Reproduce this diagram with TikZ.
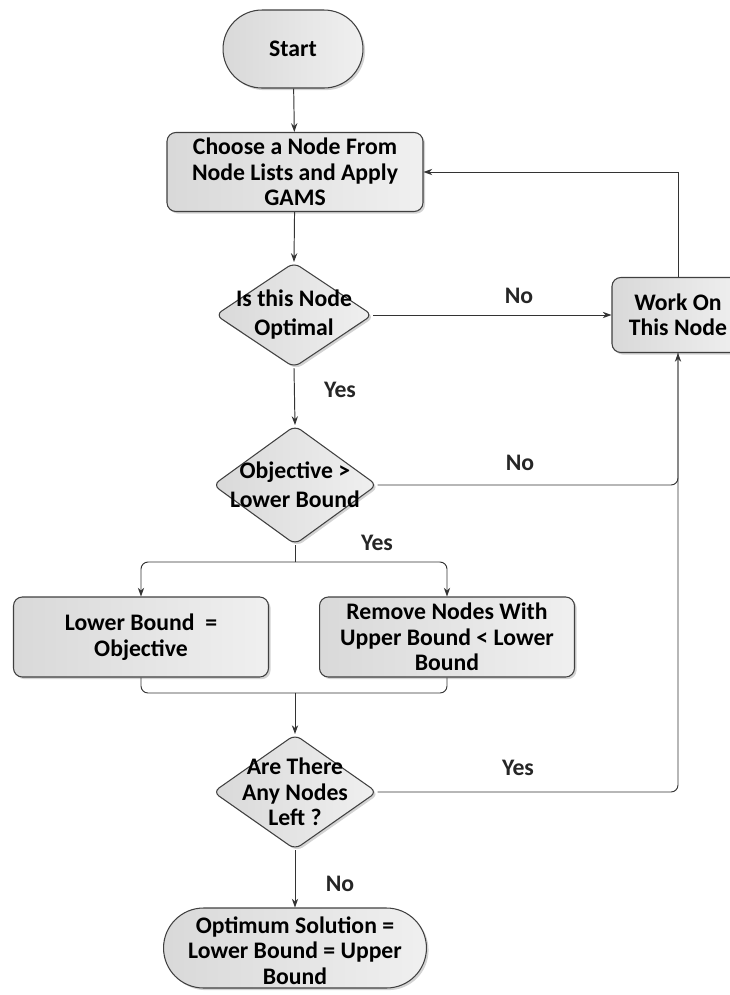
\documentclass[tikz,border=0pt]{standalone}
\usepackage{fontspec}
\setmainfont{Carlito}
\usetikzlibrary{shapes.geometric,shapes.misc,arrows.meta,shadows,calc}

\tikzset{
  txt/.style={font=\bfseries\fontsize{13.5}{14.5}\selectfont},
  shaded/.style={draw=black!75, line width=0.6pt, left color=black!15, right color=black!6,
                 drop shadow={shadow xshift=1.2pt, shadow yshift=-1.2pt, opacity=0.35}},
  procbox/.style={shaded, txt, rectangle, rounded corners=5pt, align=center, inner sep=2pt},
  termbox/.style={shaded, txt, rounded rectangle, align=center, inner sep=2pt},
  decbox/.style={shaded, diamond, inner sep=0pt, rounded corners=4pt},
  dectext/.style={font=\bfseries\fontsize{13.5}{16.5}\selectfont, align=center},
  lbl/.style={txt, text=black!85},
  arr/.style={draw=black!80, line width=0.55pt, -{Stealth[length=5pt,width=3.6pt]}},
  ln/.style={draw=black!80, line width=0.55pt},
}

\begin{document}
\begin{tikzpicture}[x=0.02cm, y=-0.02cm]
  \useasboundingbox (0,0) rectangle (730,995);

  % process nodes
  \node[termbox, minimum width=2.94cm, minimum height=1.56cm] (start) at (293,49) {Start};
  \node[procbox, minimum width=5.12cm, minimum height=1.58cm] (choose) at (295,172)
    {Choose a Node From\\Node Lists and Apply\\GAMS};
  \node[decbox, minimum width=3.14cm, minimum height=2.1cm,
        label={[dectext]center:Is this Node\\Optimal}] (opt) at (294,315) {};
  \node[procbox, minimum width=2.64cm, minimum height=1.5cm] (work) at (678,315)
    {Work On\\This Node};
  \node[decbox, minimum width=3.28cm, minimum height=2.38cm,
        label={[dectext]center:Objective >\\Lower Bound}] (obj) at (295,485) {};
  \node[procbox, minimum width=5.1cm, minimum height=1.6cm] (lb) at (141,637)
    {Lower Bound\ \ =\\Objective};
  \node[procbox, minimum width=5.1cm, minimum height=1.6cm] (rm) at (447,637)
    {Remove Nodes With\\Upper Bound < Lower\\Bound};
  \node[decbox, minimum width=3.28cm, minimum height=2.3cm,
        label={[txt, align=center]center:Are There\\Any Nodes\\Left ?}] (left) at (295,792) {};
  \node[termbox, minimum width=5.4cm, minimum height=1.6cm,
        label={[txt, align=center, yshift=-0.05cm]center:Optimum Solution =\\Lower Bound = Upper\\Bound}]
        (finish) at (295,948) {};

  % branch labels
  \node[lbl] (noA) at (519,296) {No};
  \node[lbl] (yesA) at (340,390) {Yes};
  \node[lbl] (noB) at (520,463) {No};
  \node[lbl] (yesB) at (377,543) {Yes};
  \node[lbl] (yesC) at (518,768) {Yes};
  \node[lbl] (noC) at (340,884) {No};

  \coordinate (split) at (295,562);
  \coordinate (merge) at (295,693);

  % connectors
  \draw[arr] (start) -- (choose);
  \draw[arr] (choose) -- (opt.north);
  \draw[arr] (opt.east) -- (work.west);
  \draw[arr] (work.north) |- (choose.east);
  \draw[arr] (opt.south) -- (obj.north);
  \draw[arr, rounded corners=4pt] (obj.east) -| (work.south);
  \draw[ln] (obj.south) -- (split);
  \draw[arr, rounded corners=4pt] (split) -| (lb.north);
  \draw[arr, rounded corners=4pt] (split) -| (rm.north);
  \draw[ln, rounded corners=4pt] (lb.south) |- (merge);
  \draw[ln, rounded corners=4pt] (rm.south) |- (merge);
  \draw[arr] (merge) -- (left.north);
  \draw[ln, rounded corners=4pt] (left.east) -| (work.south);
  \draw[arr] (left.south) -- (finish.north);
\end{tikzpicture}
\end{document}
